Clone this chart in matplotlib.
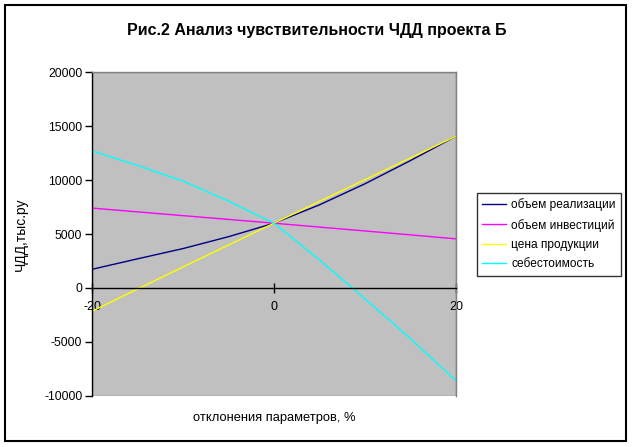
import matplotlib.pyplot as plt
from matplotlib.patches import Rectangle

# deviation of parameters, %
deviation = [-20, -15, -10, -5, 0, 5, 10, 15, 20]

# NPV (ЧДД), thousand rub
sales_volume = [1730, 2700, 3650, 4750, 6000, 7700, 9650, 11800, 14050]
investment = [7400, 7050, 6700, 6350, 6000, 5640, 5280, 4920, 4550]
price = [-2150, -100, 1950, 3980, 6000, 8020, 10030, 12040, 14050]
cost = [12700, 11350, 9900, 8050, 6000, 2600, -1000, -4700, -8580]

series_names = ["объем реализации", "объем инвестиций", "цена продукции", "себестоимость"]
series_colors = ["#000080", "#FF00FF", "#FFFF00", "#00FFFF"]
y_ticks = [-10000, -5000, 0, 5000, 10000, 15000, 20000]
x_ticks = [-20, 0, 20]

plt.rcParams["font.family"] = ["Liberation Sans", "DejaVu Sans"]
plt.rcParams["axes.unicode_minus"] = False

W, H = 634, 447
fig = plt.figure(figsize=(W / 100, H / 100), dpi=100)
fig.patch.set_facecolor("white")

# chart area border
fig.patches.append(Rectangle((5 / W, 1 - 441 / H), 621 / W, 436 / H,
                             transform=fig.transFigure, fill=False,
                             edgecolor="black", linewidth=1.5))

ax = fig.add_axes([92 / W, 1 - 396 / H, (456 - 92) / W, (396 - 72) / H])
ax.set_facecolor("#C0C0C0")

for vals, name, col in zip([sales_volume, investment, price, cost], series_names, series_colors):
    ax.plot(deviation, vals, color=col, linewidth=1.0, label=name)

ax.set_xlim(-20, 20)
ax.set_ylim(-10000, 20000)
ax.set_yticks(y_ticks)
ax.set_xticks(x_ticks)
ax.set_xticklabels([str(v) for v in x_ticks])

# plot area frame in gray
for side in ["top", "right"]:
    ax.spines[side].set_color("#808080")
    ax.spines[side].set_linewidth(1.0)
ax.add_patch(Rectangle((0, 0), 1, 1, transform=ax.transAxes, fill=False,
                       edgecolor="#808080", linewidth=1.0, zorder=0.5))
ax.spines["left"].set_color("black")
ax.spines["left"].set_linewidth(1.0)
ax.spines["bottom"].set_position(("data", 0))
ax.spines["bottom"].set_color("black")
ax.spines["bottom"].set_linewidth(1.0)

ax.tick_params(axis="y", direction="out", length=5, width=1, labelsize=8.7, pad=2)
ax.tick_params(axis="x", direction="inout", length=7, width=1, labelsize=9, pad=6)

ax.set_ylabel("ЧДД,тыс.ру", fontsize=10)
ax.yaxis.set_label_coords(-0.175, 0.5)

fig.text(274 / W, 1 - 418 / H, "отклонения параметров, %", ha="center", va="center", fontsize=9.3)
fig.text(317 / W, 1 - 30 / H, "Рис.2 Анализ чувствительности ЧДД проекта Б",
         ha="center", va="center", fontsize=11.5, fontweight="bold")

leg = fig.legend(loc="upper left", bbox_to_anchor=(477 / W, 1 - 193 / H),
                 bbox_transform=fig.transFigure, fontsize=8.6, frameon=True,
                 fancybox=False, shadow=False, handlelength=2.0,
                 labelspacing=0.62, borderpad=0.45, handletextpad=0.4,
                 borderaxespad=0)
leg.get_frame().set_edgecolor("black")
leg.get_frame().set_linewidth(1.0)

fig.savefig("out.png", dpi=100)
